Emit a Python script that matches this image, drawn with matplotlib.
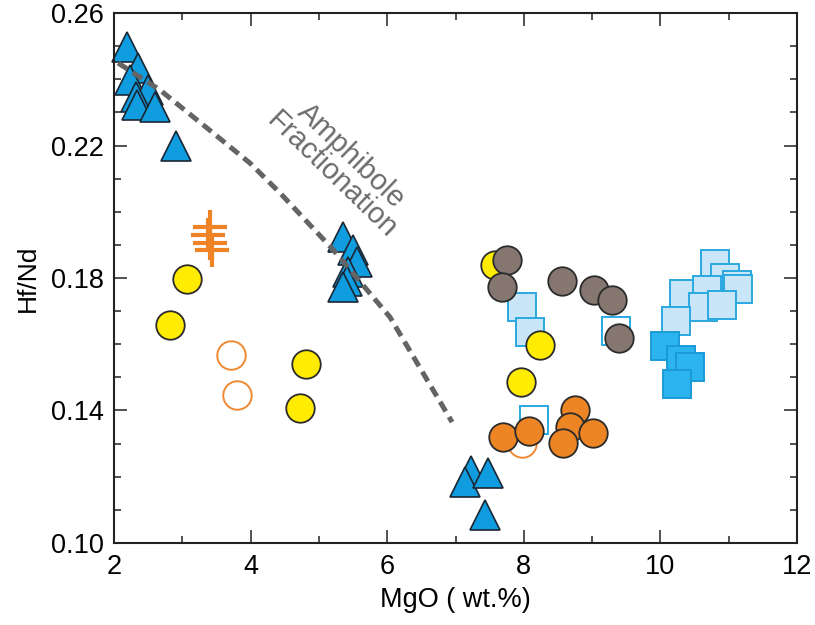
import numpy as np
import matplotlib
matplotlib.use("Agg")
import matplotlib.pyplot as plt

plt.rcParams['font.family'] = ['Liberation Sans', 'DejaVu Sans']

# blue triangles
tri_x = [2.19, 2.35, 2.24, 2.50, 2.32, 2.34, 2.60, 2.91,
         5.36, 5.50, 5.56, 5.43, 5.41, 5.36,
         7.23, 7.14, 7.48, 7.43]
tri_y = [0.2498, 0.2434, 0.2398, 0.2368, 0.2346, 0.2322, 0.2316, 0.2199,
         0.1923, 0.1885, 0.1848, 0.1818, 0.1791, 0.1773,
         0.1217, 0.1184, 0.1211, 0.1085]

# yellow circles
yel_x = [3.07, 2.82, 4.81, 4.72, 7.58, 8.23, 7.96]
yel_y = [0.1796, 0.1658, 0.1539, 0.1407, 0.1839, 0.1598, 0.1487]

# open orange circles
oc_x = [3.71, 3.80, 7.97]
oc_y = [0.1568, 0.1447, 0.1301]

# orange crosses
cr_x = [3.41, 3.37, 3.41, 3.44]
cr_y = [0.1955, 0.1930, 0.1907, 0.1885]

# grey circles
gr_x = [7.76, 7.68, 8.56, 9.03, 9.29, 9.40]
gr_y = [0.1854, 0.1774, 0.1792, 0.1764, 0.1734, 0.1618]

# orange circles
or_x = [7.70, 8.07, 8.75, 8.68, 9.01, 8.57]
or_y = [0.1321, 0.1339, 0.1402, 0.1351, 0.1331, 0.1303]

# light blue squares
ls_x = [7.98, 8.09, 10.80, 10.94, 11.12, 11.13, 10.35, 10.68, 10.63, 10.90, 10.23]
ls_y = [0.1712, 0.1636, 0.1841, 0.1801, 0.1780, 0.1768, 0.1751, 0.1764, 0.1712, 0.1718, 0.1671]

# dark blue squares
ds_x = [10.07, 10.30, 10.44, 10.24]
ds_y = [0.1596, 0.1552, 0.1532, 0.1480]

# open squares
os_x = [9.35, 8.15]
os_y = [0.1641, 0.1371]

# amphibole fractionation trend
trend_x = [2.06, 2.67, 3.45, 3.99, 4.43, 5.21, 6.04, 6.95]
trend_y = [0.2449, 0.2368, 0.2238, 0.2147, 0.2057, 0.1885, 0.1682, 0.1365]

fig = plt.figure(figsize=(8.15, 6.25), dpi=100)
ax = fig.add_axes([114 / 815, 82 / 625, 683 / 815, 530 / 625])

ms = 20.5
ax.plot(ls_x, ls_y, 's', ms=ms, mfc='#c8e6f8', mec='#2aa9e1', mew=1.4, clip_on=False)
ax.plot(ds_x, ds_y, 's', ms=ms, mfc='#2cb4ee', mec='#1a9bd8', mew=1.4, clip_on=False)
ax.plot(os_x, os_y, 's', ms=ms, mfc='none', mec='#2aa9e1', mew=1.4, clip_on=False)
ax.plot(oc_x, oc_y, 'o', ms=ms, mfc='white', mec='#ee8a33', mew=1.4, clip_on=False)
ax.plot(cr_x, cr_y, '+', ms=25, mec='#ef8325', mew=3, clip_on=False)
ax.plot(tri_x, tri_y, '^', ms=21, mfc='#0f9de0', mec='#1b2633', mew=1.2, clip_on=False)
ax.plot(yel_x, yel_y, 'o', ms=ms, mfc='#ffec00', mec='#2b2b2b', mew=1.3, clip_on=False)
ax.plot(gr_x, gr_y, 'o', ms=ms, mfc='#857770', mec='#2b2b2b', mew=1.3, clip_on=False)
ax.plot(or_x, or_y, 'o', ms=ms, mfc='#ee8524', mec='#2b2b2b', mew=1.3, clip_on=False)

ax.plot(trend_x, trend_y, color='#646464', lw=3.6, dashes=(2.2, 1.3), solid_capstyle='butt')

ax.text(5.33, 0.2140, 'Amphibole\nFractionation', rotation=-44, color='#6b6b6b',
        fontsize=21, ha='center', va='center', linespacing=0.95, rotation_mode='anchor')

ax.set_xlim(2, 12)
ax.set_ylim(0.10, 0.26)
ax.set_xticks([2, 4, 6, 8, 10, 12])
ax.set_xticks([3, 5, 7, 9, 11], minor=True)
ax.set_yticks([0.10, 0.14, 0.18, 0.22, 0.26])
ax.set_yticks(np.arange(0.11, 0.26, 0.01), minor=True)
ax.set_yticklabels(['0.10', '0.14', '0.18', '0.22', '0.26'])

ax.tick_params(which='both', direction='in', top=True, right=True, width=1.1, color='#222222',
               labelsize=19.5)
ax.tick_params(which='major', length=9.5)
ax.tick_params(which='minor', length=5)
ax.tick_params(axis='x', pad=8)
ax.tick_params(axis='y', pad=7)
for s in ax.spines.values():
    s.set_linewidth(1.5)
    s.set_color('#222222')

ax.set_xlabel('MgO ( wt.%)', fontsize=19.5, labelpad=5)
ax.set_ylabel('Hf/Nd', fontsize=19, labelpad=8)

fig.savefig('out.png', dpi=100)
